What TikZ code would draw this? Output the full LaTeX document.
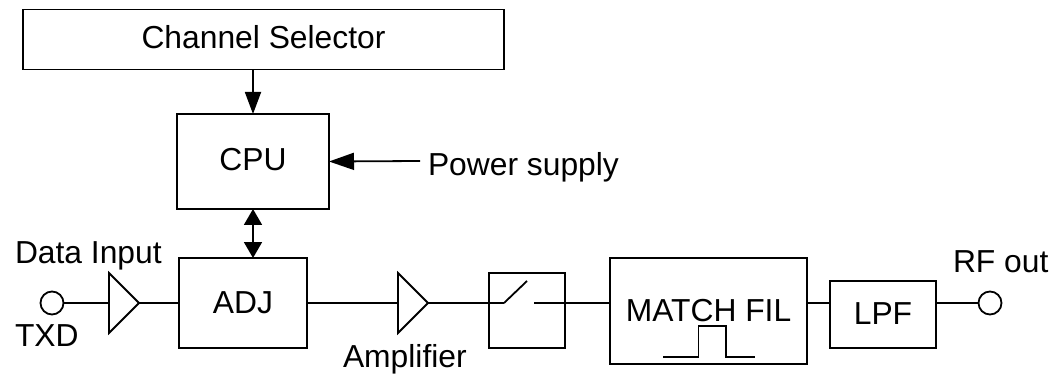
\documentclass[tikz,border=0pt]{standalone}
\usepackage{fontspec}
\setmainfont{Liberation Sans}
\usetikzlibrary{arrows.meta}
\tikzset{
  x=1pt,y=-1pt,
  wire/.style={line width=1.8pt,black,line join=miter},
  arr/.style={wire,-{Triangle[length=22pt,width=16pt]}},
  parr/.style={wire,-{Triangle[length=25pt,width=17pt]}},
  barr/.style={wire,{Triangle[length=16pt,width=18pt]}-{Triangle[length=16pt,width=18pt]}},
  box/.style={draw,line width=1.8pt,inner sep=0pt,outer sep=0pt,text height=23pt,text depth=0pt,font=\fontsize{31.8pt}{34pt}\selectfont},
  lab/.style={inner sep=0pt,outer sep=0pt,anchor=base west,font=\fontsize{31.8pt}{34pt}\selectfont},
  term/.style={circle,draw,line width=1.8pt,minimum size=23pt,inner sep=0pt,outer sep=0pt,fill=white},
}
\begin{document}
\begin{tikzpicture}
\useasboundingbox (0,0) rectangle (1060,374);
% boxes
\node[box,minimum width=481pt,minimum height=60pt] (chan) at (263.5,39.5) {\raisebox{2pt}{Channel Selector}};
\node[box,minimum width=152pt,minimum height=95pt] (cpu) at (253,161.5) {\raisebox{2.5pt}{CPU}};
\node[box,minimum width=128pt,minimum height=90pt] (adj) at (243,303) {\raisebox{1.5pt}{ADJ}};
\node[box,minimum width=76pt,minimum height=75pt] (sw) at (527,310.5) {};
\node[box,minimum width=197pt,minimum height=106pt] (match) at (708.5,311) {\raisebox{1.5pt}{MATCH FIL}};
\node[box,minimum width=105.5pt,minimum height=67pt] (lpf) at (883,314.5) {\raisebox{1.5pt}{LPF}};
% terminals
\node[term] (in) at (52,303) {};
\node[term] (out) at (990,303) {};
% amplifier triangles
\coordinate (a1in) at (109,303);
\coordinate (a1tip) at (139,303);
\coordinate (a2in) at (398,303);
\coordinate (a2tip) at (428,303);
\draw[wire] (109,273) -- (a1tip) -- (109,333) -- cycle;
\draw[wire] (398,273) -- (a2tip) -- (398,333) -- cycle;
% switch contacts
\coordinate (swa) at (504,303);
\coordinate (swl) at (527,281);
\coordinate (swb) at (534,303);
\draw[wire] (swa) -- (swl);
% labels
\node[lab] (pw) at (428,176) {Power supply};
\node[lab] (di) at (15,263) {Data Input};
\node[lab] (txd) at (15,346) {TXD};
\node[lab] (amp) at (343,367) {Amplifier};
\node[lab] (rf) at (953,272) {RF out};
% connectors
\coordinate (pws) at (420,161);
\draw[arr] (chan.south -| cpu.north) -- (cpu.north);
\draw[parr] (pws) -- (cpu.east);
\draw[barr] (cpu.south) -- (cpu.south |- adj.north);
\draw[wire] (in.east) -- (a1in);
\draw[wire] (a1tip) -- (adj.west);
\draw[wire] (adj.east) -- (a2in);
\draw[wire] (a2tip) -- (swa);
\draw[wire] (swb) -- (match.west |- swb);
\draw[wire] (match.east |- swb) -- (lpf.west |- swb);
\draw[wire] (lpf.east |- out) -- (out.west);
% pulse
\draw[wire] (663,357) -- (698.5,357) -- (698.5,326) -- (726,326) -- (726,357) -- (755,357);
\end{tikzpicture}
\end{document}
